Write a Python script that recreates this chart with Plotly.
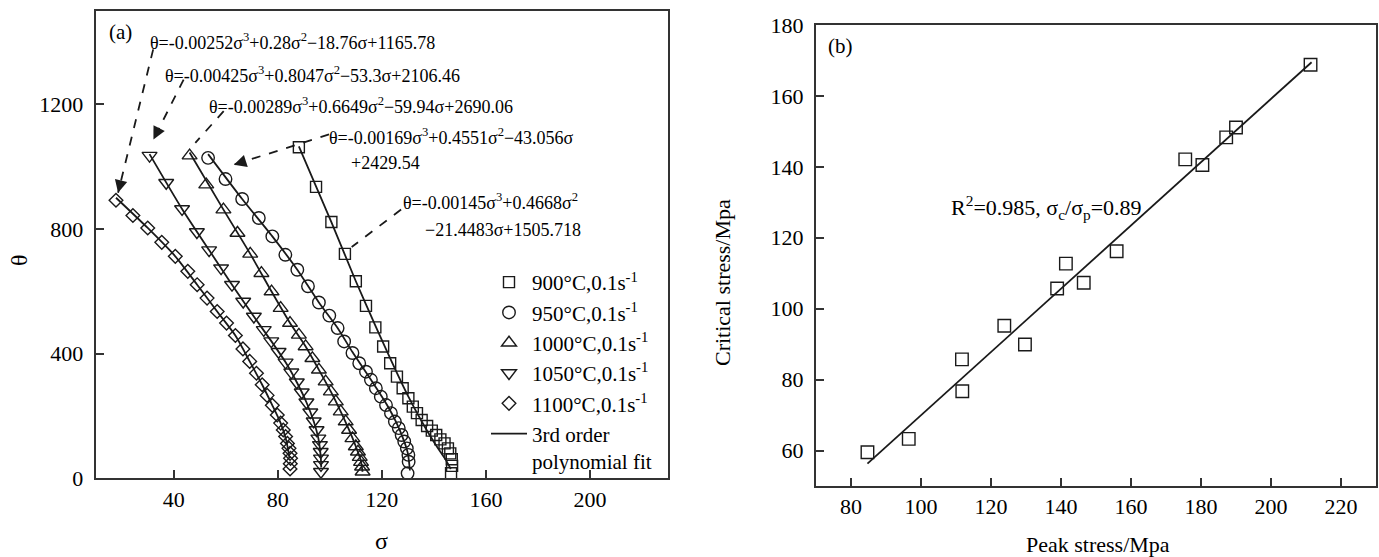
import plotly.graph_objects as go

W, H = 1379, 557
FONT = "Liberation Serif"
INK = "#1a1a1a"

# ---------------- (a) data: sigma / theta ----------------
s900 = [88.1, 94.7, 100.6, 105.8, 110.0, 113.9, 117.5, 120.5, 123.2, 125.8, 128.0, 130.2, 131.9, 133.5,
        135.3, 137.4, 139.2, 140.9, 142.5, 144.1, 145.4, 146.3, 146.9, 147.0, 146.6]
t900 = [1062, 935, 822, 720, 632, 553, 484, 423, 369, 326, 289, 257, 230, 209,
        187, 168, 153, 139, 125, 112, 96, 80, 61, 40, 16]

s950 = [53.2, 59.9, 66.3, 72.7, 77.9, 82.9, 87.5, 91.6, 95.8, 99.8, 103.0, 105.5, 108.7, 111.3, 113.9,
        115.8, 117.7, 119.6, 121.6, 123.5, 125.0, 126.5, 127.6, 128.6, 129.6, 130.2, 130.3, 129.9]
t950 = [1028, 960, 896, 835, 776, 717, 669, 616, 564, 522, 482, 439, 402, 369, 342,
        316, 289, 262, 235, 209, 182, 161, 139, 118, 96, 75, 53, 16]

s1000 = [46.1, 52.5, 59.1, 64.5, 69.4, 73.7, 77.6, 81.1, 84.7, 88.1, 90.7, 93.3, 95.8, 98.4, 100.4,
         102.3, 104.2, 106.1, 107.4, 108.7, 110.0, 110.8, 111.5, 112.0, 112.4, 112.6]
t1000 = [1035, 942, 862, 787, 720, 658, 599, 546, 498, 460, 423, 385, 348, 310, 278,
         246, 214, 182, 155, 128, 102, 85, 68, 52, 37, 21]

s1050 = [30.7, 37.1, 43.2, 48.9, 53.6, 58.2, 62.4, 66.7, 70.8, 74.6, 77.5, 80.3, 83.0, 85.2, 87.3,
         89.2, 91.0, 92.5, 93.8, 94.9, 95.6, 96.2, 96.5, 96.6, 96.6, 96.6]
t1050 = [1035, 948, 864, 790, 732, 674, 621, 567, 519, 476, 440, 406, 372, 340, 308,
         276, 244, 212, 183, 155, 128, 107, 85, 64, 43, 21]

s1100 = [17.8, 24.3, 30.0, 35.4, 40.6, 45.4, 49.0, 52.8, 56.7, 60.3, 63.7, 66.6, 69.2, 71.8, 74.0,
         75.9, 77.9, 79.8, 81.1, 82.1, 83.0, 83.7, 84.3, 84.7, 84.9, 84.8, 84.7]
t1100 = [892, 843, 803, 757, 712, 664, 621, 578, 535, 498, 458, 415, 375, 337, 300,
         266, 234, 203, 177, 155, 134, 112, 96, 80, 64, 47, 30]

# fitted curves as drawn in the picture
f900_s = [88.1, 100.6, 110.0, 117.8, 124.0, 130.0, 135.5, 140.5, 144.5, 146.5]
f900_t = [1065, 822, 632, 484, 370, 265, 180, 110, 60, 30]
f950_s = [53.2, 66.3, 77.9, 87.5, 95.8, 103.0, 108.7, 113.5, 118.0, 122.0, 125.5, 128.3, 130.0, 130.8]
f950_t = [1040, 896, 776, 669, 564, 482, 405, 345, 288, 235, 180, 125, 80, 25]
f1000_s = [46.1, 59.1, 69.4, 77.6, 84.7, 90.7, 95.8, 100.4, 104.2, 107.4, 110.0, 111.8, 112.6]
f1000_t = [1045, 862, 720, 599, 498, 423, 348, 278, 214, 155, 102, 60, 21]
f1050_s = [30.7, 43.2, 53.6, 62.4, 70.8, 77.5, 83.0, 87.3, 91.0, 93.8, 95.6, 96.5, 96.7]
f1050_t = [1040, 864, 732, 621, 519, 440, 372, 308, 244, 183, 128, 70, 35]
f1100_s = [17.8, 30.0, 40.6, 49.0, 56.7, 63.7, 69.2, 74.0, 77.9, 81.1, 83.3, 84.5]
f1100_t = [900, 803, 712, 621, 535, 458, 375, 300, 234, 177, 120, 65]

series_names = ["900°C,0.1s<sup>-1</sup>", "950°C,0.1s<sup>-1</sup>", "1000°C,0.1s<sup>-1</sup>",
                "1050°C,0.1s<sup>-1</sup>", "1100°C,0.1s<sup>-1</sup>"]
fit_name = "3rd order<br>polynomial fit"

eq_texts = ["θ=-0.00252σ<sup>3</sup>+0.28σ<sup>2</sup>−18.76σ+1165.78",
            "θ=-0.00425σ<sup>3</sup>+0.8047σ<sup>2</sup>−53.3σ+2106.46",
            "θ=-0.00289σ<sup>3</sup>+0.6649σ<sup>2</sup>−59.94σ+2690.06",
            "θ=-0.00169σ<sup>3</sup>+0.4551σ<sup>2</sup>−43.056σ",
            "+2429.54",
            "θ=-0.00145σ<sup>3</sup>+0.4668σ<sup>2</sup>",
            "−21.4483σ+1505.718"]
eq_x = [30.2, 36.0, 52.8, 99.1, 107.4, 127.4, 135.7]
eq_y = [1402, 1295, 1196, 1097, 1012, 889, 798]

arrow_start = [(32.1, 1376), (43.8, 1279), (59.2, 1178), (99.7, 1103), (127.4, 862)]
arrow_tip = [(18.6, 916), (32.2, 1087), (48.3, 1076), (63.1, 1006), (108.4, 742)]

# ---------------- (b) data ----------------
peak = [84.7, 96.5, 111.7, 111.8, 123.8, 129.7, 138.9, 141.4, 146.5, 155.9, 175.5, 180.4, 187.2, 190.0, 211.3]
crit = [59.5, 63.3, 85.7, 76.7, 95.2, 89.9, 105.7, 112.7, 107.3, 116.2, 142.1, 140.5, 148.3, 151.1, 168.8]
fit_peak = [84.7, 211.6]
fit_crit = [56.3, 169.5]

fig = go.Figure()

symbols = ["square-open", "circle-open", "triangle-up-open", "triangle-down-open", "diamond-open"]
sizes = [11, 12.5, 13, 13, 10.5]
data_s = [s900, s950, s1000, s1050, s1100]
data_t = [t900, t950, t1000, t1050, t1100]
for name, sym, sz, xs, ys in zip(series_names, symbols, sizes, data_s, data_t):
    fig.add_trace(go.Scatter(x=xs, y=ys, mode="markers", name=name,
                             marker=dict(symbol=sym, size=sz, color=INK, line=dict(width=1.4, color=INK)),
                             xaxis="x", yaxis="y"))

fits = [(f900_s, f900_t), (f950_s, f950_t), (f1000_s, f1000_t), (f1050_s, f1050_t), (f1100_s, f1100_t)]
for i, (xs, ys) in enumerate(fits):
    fig.add_trace(go.Scatter(x=xs, y=ys, mode="lines", name=fit_name, showlegend=(i == 0),
                             line=dict(color=INK, width=1.8, shape="spline", smoothing=0.6),
                             xaxis="x", yaxis="y"))

fig.add_trace(go.Scatter(x=peak, y=crit, mode="markers", showlegend=False,
                         marker=dict(symbol="square-open", size=12.5, color=INK, line=dict(width=1.4, color=INK)),
                         xaxis="x2", yaxis="y2"))
fig.add_trace(go.Scatter(x=fit_peak, y=fit_crit, mode="lines", showlegend=False,
                         line=dict(color=INK, width=1.8), xaxis="x2", yaxis="y2"))

annotations = []
shapes = []
for txt, x, y in zip(eq_texts, eq_x, eq_y):
    annotations.append(dict(x=x, y=y, xref="x", yref="y", text=txt, showarrow=False,
                            xanchor="left", yanchor="middle", font=dict(family=FONT, size=18, color="black")))
for (x0, y0), (x1, y1) in zip(arrow_start, arrow_tip):
    shapes.append(dict(type="line", xref="x", yref="y", x0=x0, y0=y0, x1=x1, y1=y1,
                       line=dict(color=INK, width=1.8, dash="dash")))
    bx = x1 + (x0 - x1) * 0.08
    by = y1 + (y0 - y1) * 0.08
    annotations.append(dict(x=x1, y=y1, ax=bx, ay=by, xref="x", yref="y", axref="x", ayref="y",
                            text="", showarrow=True, arrowhead=2, arrowsize=1.4, arrowwidth=1.8,
                            arrowcolor=INK, standoff=0))

annotations += [
    dict(x=107 / W, y=1 - 32 / H, xref="paper", yref="paper", text="(a)", showarrow=False,
         xanchor="left", yanchor="middle", font=dict(family=FONT, size=21, color="black")),
    dict(x=826 / W, y=1 - 46 / H, xref="paper", yref="paper", text="(b)", showarrow=False,
         xanchor="left", yanchor="middle", font=dict(family=FONT, size=21, color="black")),
    dict(x=382 / W, y=1 - 541 / H, xref="paper", yref="paper", text="σ", showarrow=False,
         xanchor="center", yanchor="middle", font=dict(family=FONT, size=24, color="black")),
    dict(x=19 / W, y=1 - 260 / H, xref="paper", yref="paper", text="θ", showarrow=False, textangle=-90,
         xanchor="center", yanchor="middle", font=dict(family=FONT, size=24, color="black")),
    dict(x=1098 / W, y=1 - 544 / H, xref="paper", yref="paper", text="Peak stress/Mpa", showarrow=False,
         xanchor="center", yanchor="middle", font=dict(family=FONT, size=22, color="black")),
    dict(x=722 / W, y=1 - 283 / H, xref="paper", yref="paper", text="Critical stress/Mpa", showarrow=False,
         textangle=-90, xanchor="center", yanchor="middle", font=dict(family=FONT, size=22, color="black")),
    dict(x=108, y=128.5, xref="x2", yref="y2",
         text="R<sup>2</sup>=0.985, σ<sub>c</sub>/σ<sub>p</sub>=0.89", showarrow=False,
         xanchor="left", yanchor="middle", font=dict(family=FONT, size=22, color="black")),
]

axis_common = dict(showline=True, mirror=True, linecolor="#333333", linewidth=2, ticks="inside",
                   ticklen=8, tickwidth=2, tickcolor="#333333", showgrid=False, zeroline=False,
                   automargin=False, tickfont=dict(family=FONT, size=22, color="black"))

fig.update_layout(
    width=W, height=H, template="none", plot_bgcolor="white", paper_bgcolor="white",
    margin=dict(l=0, r=0, t=0, b=0),
    xaxis=dict(domain=[95.7 / W, 668 / W], range=[10, 230], tickvals=[40, 80, 120, 160, 200],
               anchor="y", ticklabelstandoff=0, **axis_common),
    yaxis=dict(domain=[1 - 478.3 / H, 1 - 10.7 / H], range=[0, 1500], tickvals=[0, 400, 800, 1200],
               anchor="x", ticklabelstandoff=6, **axis_common),
    xaxis2=dict(domain=[816 / W, 1376 / W], range=[70, 230], tickvals=list(range(80, 221, 20)),
                anchor="y2", ticklabelstandoff=0, **axis_common),
    yaxis2=dict(domain=[1 - 486 / H, 1 - 25 / H], range=[50, 180], tickvals=list(range(60, 181, 20)),
                anchor="x2", ticklabelstandoff=6, **axis_common),
    legend=dict(x=486 / W, y=1 - 262 / H, xanchor="left", yanchor="top", bgcolor="rgba(0,0,0,0)",
                font=dict(family=FONT, size=21, color="black"), valign="top", tracegroupgap=0,
                itemwidth=36),
    annotations=annotations, shapes=shapes, showlegend=True,
)

fig.write_html("out.html", config={"displayModeBar": False},
               post_script="document.body.style.margin='0px';document.body.style.overflow='hidden';")
